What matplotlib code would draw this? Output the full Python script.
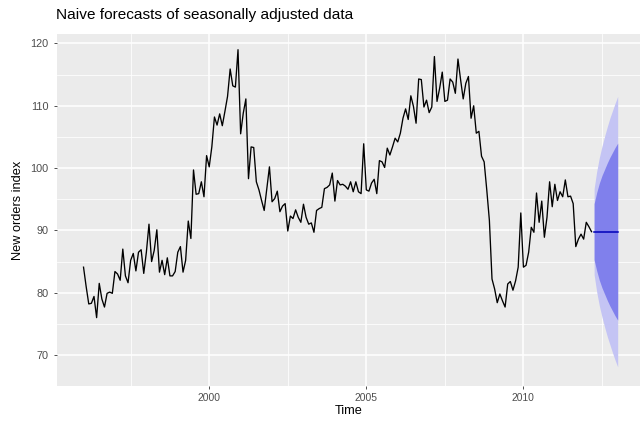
import numpy as np
import matplotlib
matplotlib.use("Agg")
import matplotlib.pyplot as plt
from matplotlib.ticker import MultipleLocator, FixedLocator

plt.rcParams['font.family'] = ['Liberation Sans', 'DejaVu Sans']

# seasonally adjusted new orders index, monthly from Jan 1996 to Mar 2012
start_year = 1996
seasadj = [
    84.1, 81.0, 78.2, 78.3, 79.4, 76.0, 81.5, 79.0, 77.7, 79.9, 80.1, 79.9,
    83.4, 83.0, 82.0, 87.0, 82.7, 81.6, 85.2, 86.3, 83.5, 86.5, 86.9, 83.1,
    86.5, 91.0, 85.0, 86.8, 90.1, 83.3, 85.2, 82.9, 85.6, 82.7, 82.7, 83.4,
    86.5, 87.4, 83.3, 85.2, 91.5, 88.7, 99.7, 95.8, 95.9, 97.8, 95.4, 102.0,
    100.2, 103.4, 108.2, 106.9, 108.7, 106.8, 109.1, 111.5, 115.9, 113.2, 113.0, 119.0,
    105.5, 108.8, 111.1, 98.3, 103.4, 103.3, 97.8, 96.5, 94.8, 93.2, 96.7, 100.2,
    94.6, 95.1, 96.3, 93.0, 93.9, 94.3, 89.9, 92.3, 91.9, 93.3, 92.1, 91.3,
    94.2, 92.1, 91.0, 91.2, 89.7, 93.2, 93.5, 93.7, 96.7, 96.9, 97.3, 99.2,
    94.7, 98.0, 97.3, 97.4, 97.1, 96.6, 97.8, 96.2, 97.8, 96.2, 95.9, 103.9,
    96.5, 96.3, 97.6, 98.2, 95.9, 101.2, 101.0, 100.1, 103.2, 102.1, 103.4, 104.8,
    104.2, 105.6, 108.0, 109.5, 107.8, 111.6, 109.9, 107.2, 114.3, 114.2, 109.8, 110.9,
    108.9, 109.8, 117.9, 110.7, 112.8, 115.4, 110.7, 110.9, 114.3, 113.8, 112.0, 117.5,
    114.2, 111.1, 113.6, 114.7, 108.0, 110.0, 105.6, 105.9, 101.9, 101.0, 96.5, 91.6,
    82.2, 80.6, 78.4, 79.8, 78.7, 77.7, 81.4, 81.8, 80.4, 81.9, 84.1, 92.8,
    84.1, 84.4, 86.5, 90.5, 89.7, 96.0, 91.3, 94.7, 88.9, 92.1, 97.8, 93.8,
    97.4, 94.8, 96.2, 95.4, 98.1, 95.4, 95.5, 94.3, 87.4, 88.6, 89.4, 88.6,
    91.3, 90.6, 89.8,
]

# naive forecast, Apr 2012 - Jan 2013
fc_mean = [89.8] * 10
fc_lo80 = [85.3, 83.5, 82.0, 80.8, 79.8, 78.8, 77.9, 77.1, 76.3, 75.6]
fc_hi80 = [94.3, 96.1, 97.6, 98.8, 99.8, 100.8, 101.7, 102.5, 103.3, 104.0]
fc_lo95 = [82.9, 80.1, 77.9, 76.1, 74.5, 73.0, 71.7, 70.4, 69.2, 68.1]
fc_hi95 = [96.7, 99.5, 101.7, 103.5, 105.1, 106.6, 108.0, 109.2, 110.4, 111.5]

t = start_year + np.arange(len(seasadj)) / 12
t_fc = t[-1] + np.arange(1, len(fc_mean) + 1) / 12

W, H = 640, 424
fig = plt.figure(figsize=(W / 100, H / 100), dpi=100)
left, right, top, bottom = 56.5, 640, 33.8, 386
ax = fig.add_axes([left / W, 1 - bottom / H, (right - left) / W, (bottom - top) / H])
ax.set_facecolor('#EBEBEB')
for s in ax.spines.values():
    s.set_visible(False)

ax.xaxis.set_major_locator(FixedLocator([2000, 2005, 2010]))
ax.xaxis.set_minor_locator(FixedLocator([1997.5, 2002.5, 2007.5, 2012.5]))
ax.yaxis.set_major_locator(MultipleLocator(10))
ax.yaxis.set_minor_locator(FixedLocator([75, 85, 95, 105, 115]))
ax.grid(which='major', color='white', linewidth=1.1)
ax.grid(which='minor', color='white', linewidth=0.55)
ax.set_axisbelow(True)

ax.fill_between(t_fc, fc_lo95, fc_hi95, color='#c4c4f4', linewidth=0)
ax.fill_between(t_fc, fc_lo80, fc_hi80, color='#8080ec', linewidth=0)
ax.plot(t_fc, fc_mean, color='#0000b8', linewidth=1.1)
ax.plot(t, seasadj, color='black', linewidth=0.95)

ax.set_xlim(1995.14, 2013.71)
ax.set_ylim(65.03, 121.55)

ax.tick_params(which='major', length=2.2, width=0.6, color='#333333',
               labelcolor='#4D4D4D', labelsize=7.4, pad=2.5)
ax.tick_params(axis='y', which='major', labelsize=7.8, pad=3.5)
ax.tick_params(which='minor', length=0)

ax.set_xlabel('Time', fontsize=9.2, labelpad=2)
ax.set_ylabel('New orders index', fontsize=9.2, labelpad=5)
ax.set_title('Naive forecasts of seasonally adjusted data', loc='left',
             fontsize=11.1, pad=11)

fig.savefig('out.png', dpi=100)
